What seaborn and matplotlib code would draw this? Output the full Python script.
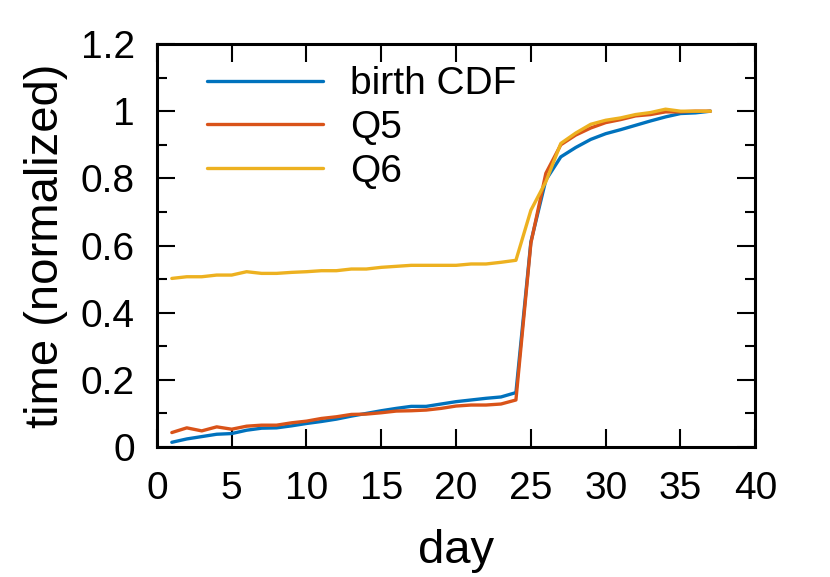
"""Normalized time vs day: birth CDF against Q5 and Q6."""
import numpy as np
import pandas as pd
import matplotlib
matplotlib.use('Agg')
import matplotlib.pyplot as plt
from matplotlib.ticker import MultipleLocator
import seaborn as sns

days = list(range(1, 38))

birth_cdf = [0.014, 0.024, 0.031, 0.038, 0.040, 0.050, 0.056, 0.057, 0.063, 0.070,
             0.076, 0.083, 0.092, 0.100, 0.108, 0.115, 0.121, 0.121, 0.128, 0.135,
             0.140, 0.145, 0.149, 0.162, 0.611, 0.795, 0.864, 0.892, 0.916, 0.933,
             0.945, 0.958, 0.971, 0.983, 0.993, 0.995, 1.000]

q5 = [0.043, 0.057, 0.048, 0.060, 0.053, 0.062, 0.065, 0.065, 0.072, 0.077,
      0.085, 0.090, 0.097, 0.098, 0.102, 0.107, 0.108, 0.110, 0.115, 0.122,
      0.125, 0.125, 0.128, 0.140, 0.607, 0.815, 0.900, 0.929, 0.950, 0.966,
      0.975, 0.986, 0.990, 0.998, 0.998, 1.000, 1.000]

q6 = [0.502, 0.507, 0.507, 0.512, 0.512, 0.522, 0.517, 0.517, 0.520, 0.522,
      0.525, 0.525, 0.530, 0.530, 0.535, 0.538, 0.541, 0.541, 0.541, 0.541,
      0.545, 0.545, 0.550, 0.556, 0.705, 0.790, 0.904, 0.935, 0.961, 0.973,
      0.980, 0.990, 0.996, 1.006, 1.000, 1.000, 1.000]

series_names = ['birth CDF', 'Q5', 'Q6']
colors = ['#0072BD', '#D95319', '#EDB120']
ytick_labels = ['0', '0.2', '0.4', '0.6', '0.8', '1', '1.2']

df = pd.DataFrame({
    'day': days * 3,
    'value': birth_cdf + q5 + q6,
    'series': np.repeat(series_names, len(days)),
})

sns.set_style('ticks', {'axes.edgecolor': 'black', 'text.color': 'black',
                        'axes.labelcolor': 'black', 'xtick.color': 'black',
                        'ytick.color': 'black'})
plt.rcParams['font.family'] = ['Liberation Sans', 'DejaVu Sans']

fig = plt.figure(figsize=(8.3, 5.77), dpi=100)
ax = fig.add_axes([0.189, 0.2253, 0.721, 0.6984])

sns.lineplot(data=df, x='day', y='value', hue='series', hue_order=series_names,
             palette=colors, linewidth=2.4, ax=ax)

ax.set_xlim(0, 40)
ax.set_ylim(0, 1.2)
ax.xaxis.set_major_locator(MultipleLocator(5))
ax.yaxis.set_minor_locator(MultipleLocator(0.1))
ax.set_yticks(np.arange(0, 1.21, 0.2))
ax.set_yticklabels(ytick_labels)
ax.tick_params(which='major', direction='in', top=True, right=True,
               length=13, width=1.5, labelsize=28, colors='black')
ax.tick_params(which='minor', direction='in', top=True, right=True,
               length=7, width=1.5, colors='black')
ax.tick_params(axis='x', pad=17)
ax.tick_params(axis='y', pad=16)
for sp in ax.spines.values():
    sp.set_linewidth(2.2)
    sp.set_color('black')
    sp.set_visible(True)

ax.set_xlabel('day', fontsize=34, labelpad=16, color='black')
ax.set_ylabel('time (normalized)', fontsize=34, labelpad=9, color='black')

leg = ax.legend(loc='upper left', bbox_to_anchor=(0.083, 0.945), frameon=False,
                fontsize=28, handlelength=3.0, handletextpad=0.68,
                labelspacing=0.2, borderaxespad=0, borderpad=0)
for t in leg.get_texts():
    t.set_color('black')

plt.savefig('out.png', dpi=100)
